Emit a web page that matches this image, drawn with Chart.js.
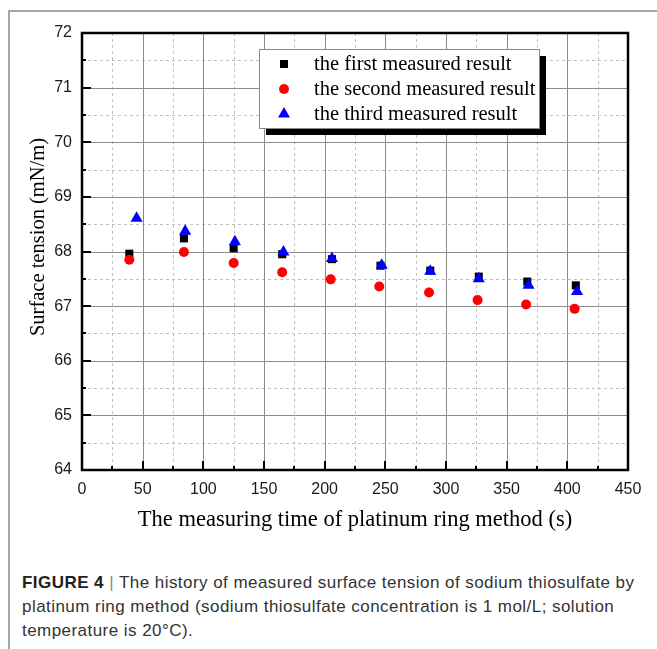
<!DOCTYPE html>
<html>
<head>
<meta charset="utf-8">
<script src="https://cdn.jsdelivr.net/npm/chart.js@4/dist/chart.umd.min.js"></script>
<style>
  body { margin: 0; background: #fff; width: 657px; height: 649px; overflow: hidden; position: relative; }
  .frame { position: absolute; left: 8px; top: 10px; right: 0; bottom: 0; border-left: 2px solid #a6a6a6; border-top: 2px solid #a6a6a6; }
  #wrap { position: absolute; left: 0; top: 0; width: 657px; height: 560px; }
  .caption { position: absolute; left: 22px; top: 571px; font-family: "Liberation Sans", Arial, sans-serif; font-size: 17px; letter-spacing: 0.45px; line-height: 24px; color: #333; white-space: nowrap; }
  .caption b { color: #222; }
  .caption .bar { color: #888; }
</style>
</head>
<body>
<div class="frame"></div>
<div id="wrap"><canvas id="myChart" width="657" height="560"></canvas></div>
<div class="caption"><b>FIGURE 4</b> <span class="bar">|</span> The history of measured surface tension of sodium thiosulfate by<br>platinum ring method (sodium thiosulfate concentration is 1 mol/L; solution<br>temperature is 20°C).</div>
<script>
// measuring time (s) of each run
var timeFirst = [39, 84, 125, 165, 206, 246, 287, 327, 367, 407];
var timeSecond = [39, 84, 125, 165, 205, 245, 286, 326, 366, 406];
var timeThird = [45, 85, 126, 166, 206, 247, 287, 327, 368, 408];

// surface tension (mN/m)
var tensionFirst = [67.96, 68.24, 68.06, 67.95, 67.86, 67.74, 67.65, 67.54, 67.45, 67.38];
var tensionSecond = [67.85, 67.99, 67.79, 67.62, 67.49, 67.36, 67.25, 67.11, 67.03, 66.95];
var tensionThird = [68.61, 68.37, 68.18, 67.99, 67.87, 67.75, 67.64, 67.50, 67.38, 67.27];

var seriesNames = ['the first measured result', 'the second measured result', 'the third measured result'];
var yTitle = 'Surface tension (mN/m)';
var xTitle = 'The measuring time of platinum ring method (s)';

var serif = '"Liberation Serif", "Times New Roman", serif';
var sans = '"Liberation Sans", Arial, sans-serif';

function toPoints(xs, ys) {
  return xs.map(function (x, i) { return { x: x, y: ys[i] }; });
}

function isMajorX(v) { return v % 50 === 0; }
function isMajorY(v) { return Number.isInteger(v); }

// solid major / dashed minor grid, drawn under the points
var gridPlugin = {
  id: 'grid',
  beforeDatasetsDraw: function (chart) {
    var ctx = chart.ctx;
    var a = chart.chartArea;
    var xs = chart.scales.x, ys = chart.scales.y;
    ctx.save();
    ctx.lineWidth = 1;
    [false, true].forEach(function (major) {
      ctx.strokeStyle = major ? '#8c8c8c' : '#c0c0c0';
      ctx.setLineDash(major ? [] : [3, 3]);
      ctx.beginPath();
      xs.ticks.forEach(function (t) {
        if (isMajorX(t.value) !== major) return;
        var px = Math.round(xs.getPixelForValue(t.value)) + 0.5;
        ctx.moveTo(px, a.top);
        ctx.lineTo(px, a.bottom);
      });
      ys.ticks.forEach(function (t) {
        if (isMajorY(t.value) !== major) return;
        var py = Math.round(ys.getPixelForValue(t.value)) + 0.5;
        ctx.moveTo(a.left, py);
        ctx.lineTo(a.right, py);
      });
      ctx.stroke();
    });
    ctx.restore();
  }
};

// inward ticks, black box around the plot, and the y axis title
var framePlugin = {
  id: 'frame',
  afterDatasetsDraw: function (chart) {
    var ctx = chart.ctx;
    var a = chart.chartArea;
    var xs = chart.scales.x, ys = chart.scales.y;
    ctx.save();
    ctx.strokeStyle = '#000';
    ctx.lineWidth = 2;
    ctx.beginPath();
    ys.ticks.forEach(function (t) {
      var py = Math.round(ys.getPixelForValue(t.value));
      var len = isMajorY(t.value) ? 9 : 4;
      ctx.moveTo(a.left, py);
      ctx.lineTo(a.left + len, py);
    });
    xs.ticks.forEach(function (t) {
      var px = Math.round(xs.getPixelForValue(t.value));
      var len = isMajorX(t.value) ? 9 : 4;
      ctx.moveTo(px, a.bottom);
      ctx.lineTo(px, a.bottom - len);
    });
    ctx.stroke();
    ctx.lineWidth = 2.5;
    ctx.strokeRect(a.left, a.top, a.right - a.left, a.bottom - a.top);

    ctx.translate(39, 237);
    ctx.rotate(-Math.PI / 2);
    ctx.fillStyle = '#000';
    ctx.font = '20.5px ' + serif;
    ctx.textAlign = 'center';
    ctx.textBaseline = 'middle';
    ctx.fillText(yTitle, 0, 0);
    ctx.restore();
  }
};

function drawMarker(ctx, style, color, x, y) {
  ctx.fillStyle = color;
  ctx.beginPath();
  if (style === 'rect') {
    ctx.rect(x - 4, y - 4, 8, 8);
  } else if (style === 'circle') {
    ctx.arc(x, y, 5, 0, Math.PI * 2);
  } else {
    ctx.moveTo(x, y - 7);
    ctx.lineTo(x + 6, y + 3.5);
    ctx.lineTo(x - 6, y + 3.5);
    ctx.closePath();
  }
  ctx.fill();
}

// legend box with a drop shadow, inside the plot
var legendPlugin = {
  id: 'boxLegend',
  afterDraw: function (chart) {
    var ctx = chart.ctx;
    var bx = 259, by = 49, bw = 280, bh = 79;
    ctx.save();
    ctx.fillStyle = '#000';
    ctx.fillRect(bx + 7, by + 7, bw, bh);
    ctx.fillStyle = '#fff';
    ctx.fillRect(bx, by, bw, bh);
    ctx.strokeStyle = '#8a8a8a';
    ctx.lineWidth = 1;
    ctx.strokeRect(bx + 0.5, by + 0.5, bw, bh);
    ctx.font = '20.5px ' + serif;
    ctx.textBaseline = 'middle';
    chart.data.datasets.forEach(function (ds, i) {
      var rowY = by + 15 + i * 25;
      drawMarker(ctx, ds.pointStyle, ds.backgroundColor, 284, rowY);
      ctx.fillStyle = '#000';
      ctx.fillText(ds.label, 314, rowY + 1);
    });
    ctx.restore();
  }
};

var ctx = document.getElementById('myChart').getContext('2d');

var myChart = new Chart(ctx, {
  type: 'scatter',
  data: {
    datasets: [
      {
        label: seriesNames[0],
        data: toPoints(timeFirst, tensionFirst),
        pointStyle: 'rect',
        pointRadius: 5.7,
        backgroundColor: '#000000',
        borderWidth: 0,
        order: 3
      },
      {
        label: seriesNames[1],
        data: toPoints(timeSecond, tensionSecond),
        pointStyle: 'circle',
        pointRadius: 5,
        backgroundColor: '#ff0000',
        borderWidth: 0,
        order: 2
      },
      {
        label: seriesNames[2],
        data: toPoints(timeThird, tensionThird),
        pointStyle: 'triangle',
        pointRadius: 7,
        backgroundColor: '#0000ff',
        borderWidth: 0,
        order: 1
      }
    ]
  },
  options: {
    responsive: false,
    animation: false,
    events: [],
    layout: { padding: { top: 33, right: 29, left: 0, bottom: 0 } },
    plugins: {
      legend: { display: false },
      tooltip: { enabled: false }
    },
    scales: {
      x: {
        type: 'linear',
        min: 0,
        max: 450,
        afterFit: function (scale) { scale.height = 90; },
        ticks: {
          stepSize: 25,
          autoSkip: false,
          maxRotation: 0,
          padding: 10,
          color: '#1a1a1a',
          font: { family: sans, size: 16 },
          callback: function (v) { return isMajorX(v) ? v : ''; }
        },
        grid: { display: false, drawTicks: false },
        border: { display: false },
        title: {
          display: true,
          text: xTitle,
          color: '#000',
          font: { family: serif, size: 22.5 },
          padding: { bottom: 26 }
        }
      },
      y: {
        min: 64,
        max: 72,
        afterFit: function (scale) { scale.width = 82; },
        ticks: {
          stepSize: 0.5,
          autoSkip: false,
          padding: 10,
          color: '#1a1a1a',
          font: { family: sans, size: 16 },
          callback: function (v) { return isMajorY(v) ? v : ''; }
        },
        grid: { display: false, drawTicks: false },
        border: { display: false }
      }
    }
  },
  plugins: [gridPlugin, framePlugin, legendPlugin]
});
</script>
</body>
</html>
